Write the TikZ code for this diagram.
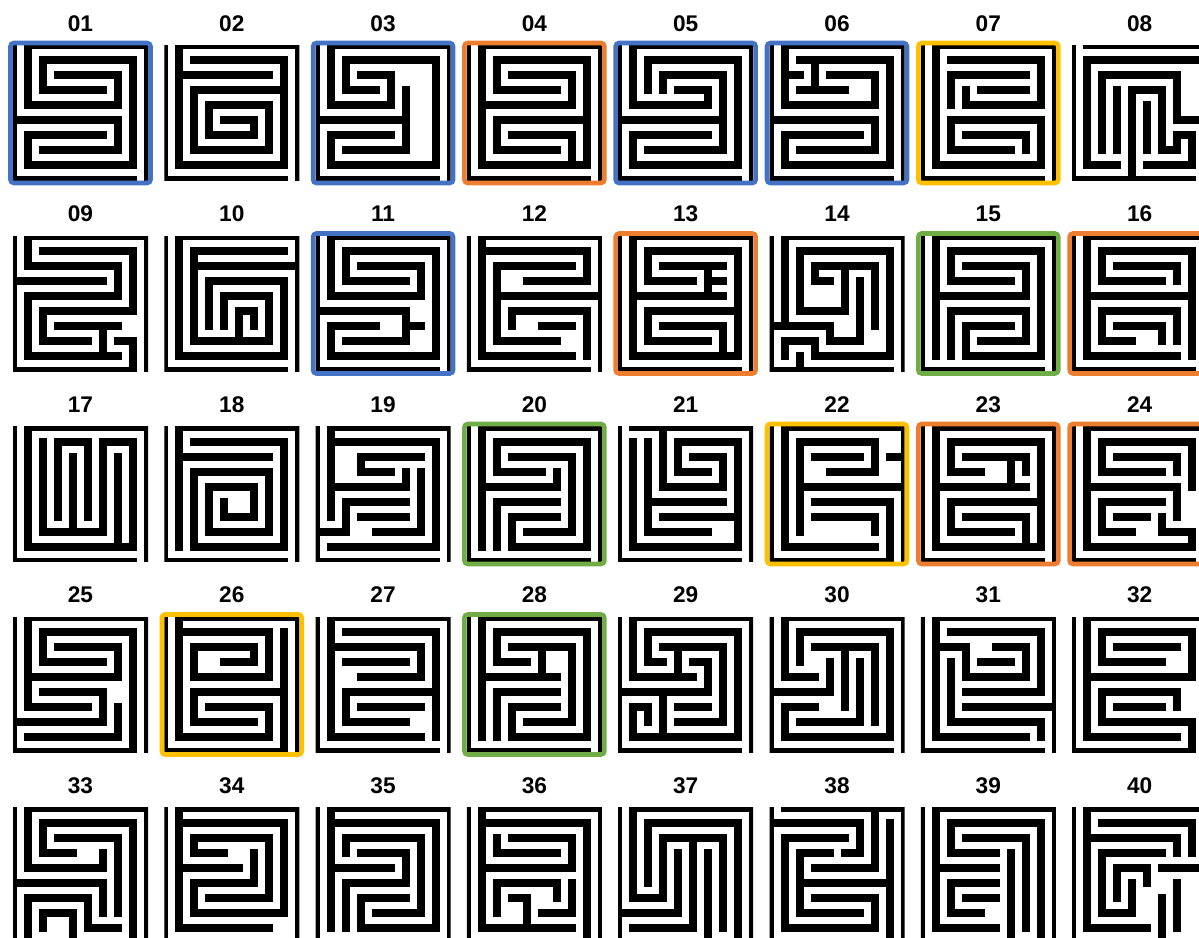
\documentclass[tikz,border=0pt]{standalone}
\usepackage{fontspec}
\setsansfont{Liberation Sans}
\usepackage{tikz}

\definecolor{hlblue}{HTML}{4472C4}
\definecolor{hlorange}{HTML}{ED7D31}
\definecolor{hlyellow}{HTML}{FFC000}
\definecolor{hlgreen}{HTML}{70AD47}

% one maze: column, row, label, walls (lattice 0..9, y down)
\newcommand\maze[4]{%
  \begin{scope}[shift={({13+151.3*#1},{45.5+190.5*#2})}]
    \node[lbl] (lab#3) at (67.5,-22) {#3};
    \begin{scope}
      \clip (0,0) rectangle (135,135);
      \draw[wall, scale=15] (0,0) -- (0,9) (1,0) -- (9,0) -- (9,9) (0,9) -- (8,9) #4;
    \end{scope}
  \end{scope}}
\newcommand\hilite[3]{%
  \draw[hl, draw=#3] ({13+151.3*#1-2.5},{45.5+190.5*#2-2.5}) rectangle ++(140,140);}

\begin{document}
\begin{tikzpicture}[x=0.75pt, y=-0.75pt,
  wall/.style={line width=6pt, line cap=rect, line join=miter},
  lbl/.style={font=\sffamily\bfseries\fontsize{17}{17}\selectfont, inner sep=0pt},
  hl/.style={line width=3.4pt, rounded corners=2.5pt}]
\useasboundingbox (0,0) rectangle (1199,938);
\clip (0,0) rectangle (1199,938);

% row 1
\maze{0}{0}{01}{(1,0)--(1,4)--(7,4)--(7,2)--(3,2) (6,3)--(2,3)--(2,1)--(8,1)--(8,8)--(1,8)--(1,6)--(6,6) (0,5)--(7,5)--(7,7)--(2,7)}
\maze{1}{0}{02}{(1,0)--(1,8)--(8,8)--(8,1)--(2,1) (1,2)--(7,2) (8,3)--(2,3)--(2,7)--(7,7)--(7,4)--(3,4)--(3,6)--(6,6)--(6,5)--(4,5)}
\maze{2}{0}{03}{(1,0)--(1,4)--(5,4)--(5,2)--(3,2) (4,3)--(2,3)--(2,1)--(8,1)--(8,8)--(1,8)--(1,6)--(5,6) (0,5)--(6,5) (6,3)--(6,7)--(2,7)}
\maze{3}{0}{04}{(1,0)--(1,8)--(8,8)--(8,1)--(2,1)--(2,3)--(6,3) (3,2)--(7,2)--(7,4)--(1,4) (8,5)--(2,5)--(2,7)--(6,7) (3,6)--(7,6)--(7,8)}
\maze{4}{0}{05}{(1,0)--(1,4)--(6,4)--(6,3)--(4,3) (2,3)--(2,1)--(8,1)--(8,8)--(1,8)--(1,6)--(6,6) (3,3)--(3,2)--(7,2)--(7,7)--(2,7) (0,5)--(7,5)}
\maze{5}{0}{06}{(1,0)--(1,4)--(7,4)--(7,2)--(4,2) (1,2)--(2,2) (3,1)--(3,3) (2,3)--(5,3) (2,1)--(8,1)--(8,8)--(1,8)--(1,6)--(6,6) (0,5)--(7,5)--(7,7)--(2,7)}
\maze{6}{0}{07}{(1,0)--(1,8)--(8,8)--(8,5)--(2,5)--(2,7)--(6,7) (2,1)--(8,1)--(8,4)--(3,4)--(3,3) (7,2)--(2,2)--(2,4) (4,3)--(7,3) (3,6)--(7,6)--(7,7)}
\maze{7}{0}{08}{(9,1)--(1,1)--(1,8)--(3,8) (2,7)--(2,2)--(7,2)--(7,5)--(9,5) (4,9)--(4,3)--(6,3)--(6,7)--(7,7)--(7,6)--(8,6)--(8,8)--(5,8) (3,3)--(3,7) (5,4)--(5,7)}

% row 2
\maze{0}{1}{09}{(1,0)--(1,2)--(7,2)--(7,4)--(1,4)--(1,8)--(7,8) (2,1)--(8,1)--(8,5)--(2,5)--(2,7)--(5,7) (0,3)--(6,3) (3,6)--(7,6) (6,6)--(6,8) (7,7)--(8,7)--(8,9)}
\maze{1}{1}{10}{(1,0)--(1,8)--(8,8)--(8,3)--(3,3)--(3,6) (8,1)--(2,1)--(2,7)--(7,7)--(7,4)--(4,4)--(4,6) (2,2)--(9,2) (5,7)--(5,5)--(6,5)--(6,6)}
\maze{2}{1}{11}{(1,0)--(1,4)--(7,4)--(7,2)--(3,2) (6,3)--(2,3)--(2,1)--(8,1)--(8,8)--(1,8)--(1,6)--(4,6) (0,5)--(6,5)--(6,7)--(2,7) (6,6)--(7,6)}
\maze{3}{1}{12}{(1,0)--(1,8)--(7,8) (1,1)--(8,1)--(8,3)--(4,3) (7,2)--(2,2)--(2,7)--(6,7) (2,4)--(9,4) (3,6)--(3,5)--(8,5)--(8,8) (5,6)--(7,6)}
\maze{4}{1}{13}{(1,0)--(1,8)--(8,8)--(8,1)--(2,1)--(2,3)--(5,3) (3,2)--(7,2) (6,2)--(6,4) (6,3)--(7,3) (1,4)--(7,4) (8,5)--(2,5)--(2,7)--(6,7) (3,6)--(7,6)--(7,8)}
\maze{5}{1}{14}{(1,0)--(1,6) (0,6)--(4,6)--(4,7)--(6,7)--(6,3) (5,5)--(2,5)--(2,1)--(8,1)--(8,8)--(3,8)--(3,7)--(1,7)--(1,8) (2,8)--(2,9) (4,3)--(3,3)--(3,2)--(7,2)--(7,6) (5,2)--(5,5)}
\maze{6}{1}{15}{(1,0)--(1,8) (6,3)--(2,3)--(2,1)--(8,1)--(8,8)--(3,8)--(3,6)--(6,6) (3,2)--(7,2)--(7,4)--(1,4) (2,8)--(2,5)--(7,5)--(7,7)--(4,7)}
\maze{7}{1}{16}{(1,0)--(1,8)--(7,8) (6,3)--(2,3)--(2,1)--(8,1)--(8,8) (3,2)--(7,2)--(7,3) (1,4)--(8,4) (7,7)--(7,5)--(2,5)--(2,7)--(4,7) (3,6)--(6,6)--(6,7)}

% row 3
\maze{0}{2}{17}{(1,0)--(1,8)--(8,8)--(8,1)--(6,1)--(6,7)--(2,7)--(2,1) (3,6)--(3,1)--(5,1)--(5,6) (4,2)--(4,7) (7,2)--(7,8)}
\maze{1}{2}{18}{(1,0)--(1,8) (2,1)--(8,1)--(8,8)--(2,8)--(2,3)--(7,3)--(7,7)--(3,7)--(3,4)--(6,4)--(6,6)--(4,6)--(4,5) (1,2)--(7,2)}
\maze{2}{2}{19}{(1,0)--(1,6) (1,1)--(8,1)--(8,8)--(1,8) (0,7)--(2,7)--(2,5)--(6,5) (7,2)--(3,2)--(3,3)--(5,3) (1,4)--(6,4)--(6,3) (7,3)--(7,7)--(4,7) (3,6)--(6,6)}
\maze{3}{2}{20}{(1,0)--(1,8) (5,3)--(2,3)--(2,1)--(8,1)--(8,8)--(3,8)--(3,6)--(6,6) (3,2)--(7,2)--(7,7)--(4,7) (1,4)--(6,4)--(6,3) (2,8)--(2,5)--(6,5)}
\maze{4}{2}{21}{(3,0)--(3,4)--(7,4)--(7,2)--(5,2) (6,3)--(4,3)--(4,1)--(8,1)--(8,8)--(1,8)--(1,1) (2,1)--(2,7)--(6,7) (2,5)--(7,5) (3,6)--(8,6)}
\maze{5}{2}{22}{(1,0)--(1,8)--(7,8) (2,7)--(2,1)--(7,1)--(7,3)--(4,3) (3,2)--(6,2) (8,2)--(9,2) (2,4)--(9,4) (8,9)--(8,5)--(3,5) (3,6)--(7,6)--(7,7)}
\maze{6}{2}{23}{(1,0)--(1,8)--(8,8)--(8,1)--(2,1)--(2,3)--(4,3) (3,2)--(7,2)--(7,3) (6,2)--(6,4) (1,4)--(7,4) (8,5)--(2,5)--(2,7)--(6,7) (3,6)--(7,6)--(7,8)}
\maze{7}{2}{24}{(1,0)--(1,8)--(8,8)--(8,7)--(6,7)--(6,6) (6,3)--(2,3)--(2,1)--(8,1)--(8,4) (3,2)--(7,2)--(7,3) (1,4)--(7,4)--(7,6) (6,5)--(2,5)--(2,7)--(4,7) (3,6)--(5,6)}

% row 4
\maze{0}{3}{25}{(1,0)--(1,6)--(5,6) (1,4)--(7,4)--(7,2)--(3,2) (6,3)--(2,3)--(2,1)--(8,1)--(8,9) (2,5)--(6,5)--(6,7)--(0,7) (1,8)--(7,8)--(7,6)}
\maze{1}{3}{26}{(1,0)--(1,8)--(7,8)--(7,6)--(3,6) (1,1)--(7,1)--(7,4)--(2,4)--(2,2)--(6,2)--(6,3)--(4,3) (8,1)--(8,9) (6,7)--(2,7)--(2,5)--(8,5)}
\maze{2}{3}{27}{(1,0)--(1,8)--(7,8) (2,1)--(8,1)--(8,8) (1,2)--(7,2)--(7,4)--(3,4) (2,3)--(6,3) (8,5)--(2,5)--(2,7)--(6,7) (3,6)--(7,6)}
\maze{3}{3}{28}{(1,0)--(1,8) (4,3)--(2,3)--(2,1)--(8,1)--(8,8)--(3,8)--(3,6)--(6,6) (3,2)--(7,2)--(7,7)--(4,7) (1,4)--(6,4) (5,2)--(5,4) (2,8)--(2,5)--(6,5)}
\maze{4}{3}{29}{(1,0)--(1,4)--(5,4) (3,3)--(2,3)--(2,1)--(8,1)--(8,8)--(1,8)--(1,6)--(2,6)--(2,7) (3,2)--(7,2)--(7,7)--(4,7) (4,2)--(4,4) (5,3)--(6,3)--(6,5) (0,5)--(6,5) (3,5)--(3,8) (4,6)--(6,6)}
\maze{5}{3}{30}{(1,0)--(1,4)--(3,4) (2,3)--(2,1)--(8,1)--(8,8)--(1,8)--(1,6)--(3,6) (7,7)--(7,2)--(3,2) (5,2)--(5,6) (0,5)--(4,5)--(4,3) (6,3)--(6,7)--(2,7)}
\maze{6}{3}{31}{(1,0)--(1,8)--(7,8) (2,1)--(8,1)--(8,5)--(3,5) (1,2)--(3,2)--(3,4)--(7,4)--(7,2)--(5,2) (4,3)--(6,3) (2,3)--(2,7)--(8,7)--(8,8) (3,6)--(9,6)}
\maze{7}{3}{32}{(1,0)--(1,8)--(7,8) (2,1)--(8,1)--(8,4)--(1,4) (2,1)--(2,3)--(6,3) (3,2)--(7,2) (2,5)--(7,5)--(7,6) (2,5)--(2,7)--(8,7)--(8,9) (3,6)--(6,6)}

% row 5
\maze{0}{4}{33}{(1,0)--(1,4)--(6,4)--(6,3) (4,3)--(2,3)--(2,1)--(8,1)--(8,9) (3,2)--(7,2)--(7,7) (0,5)--(6,5)--(6,7) (1,9)--(1,6)--(5,6)--(5,8)--(7,8) (2,8)--(2,7)--(4,7)--(4,9)}
\maze{1}{4}{34}{(1,0)--(1,8)--(7,8) (1,1)--(8,1)--(8,7)--(2,7)--(2,5)--(6,5)--(6,3) (4,3)--(2,3)--(2,2)--(7,2)--(7,6)--(3,6) (1,4)--(5,4)}
\maze{2}{4}{35}{(1,0)--(1,8) (1,1)--(8,1)--(8,8)--(3,8)--(3,6)--(6,6) (2,3)--(2,2)--(7,2)--(7,7)--(4,7) (3,3)--(6,3)--(6,5)--(2,5)--(2,8) (1,4)--(5,4)}
\maze{3}{4}{36}{(1,0)--(1,8)--(7,8) (1,1)--(8,1)--(8,9) (3,2)--(7,2)--(7,4)--(1,4) (2,2)--(2,3)--(6,3) (2,7)--(2,5)--(6,5)--(6,6) (3,6)--(4,6)--(4,8) (5,7)--(7,7)--(7,5)}
\maze{4}{4}{37}{(1,0)--(1,6)--(3,6)--(3,2)--(7,2)--(7,8) (2,5)--(2,1)--(8,1)--(8,9) (0,7)--(4,7)--(4,3) (1,8)--(5,8)--(5,2) (6,3)--(6,9)}
\maze{5}{4}{38}{(0,1)--(6,1)--(6,3)--(5,3) (7,0)--(7,4)--(3,4) (7,8)--(1,8)--(1,2)--(5,2) (4,3)--(2,3)--(2,7)--(6,7) (8,1)--(8,9) (2,5)--(8,5) (3,6)--(7,6)--(7,8)}
\maze{6}{4}{39}{(1,0)--(1,8)--(5,8) (5,3)--(2,3)--(2,1)--(8,1)--(8,9) (3,2)--(7,2)--(7,8) (1,4)--(5,4) (6,3)--(6,9) (4,7)--(2,7)--(2,5)--(5,5) (3,6)--(5,6)}
\maze{7}{4}{40}{(1,0)--(1,8)--(5,8) (2,1)--(8,1)--(8,3) (1,2)--(7,2)--(7,3) (6,3)--(2,3)--(2,7)--(4,7)--(4,5) (3,6)--(3,4)--(5,4)--(5,5) (6,4)--(9,4) (6,6)--(6,9) (7,5)--(7,8)}

% highlighted mazes
\hilite{0}{0}{hlblue} \hilite{2}{0}{hlblue} \hilite{3}{0}{hlorange}
\hilite{4}{0}{hlblue} \hilite{5}{0}{hlblue} \hilite{6}{0}{hlyellow}
\hilite{2}{1}{hlblue} \hilite{4}{1}{hlorange} \hilite{6}{1}{hlgreen}
\hilite{7}{1}{hlorange}
\hilite{3}{2}{hlgreen} \hilite{5}{2}{hlyellow} \hilite{6}{2}{hlorange}
\hilite{7}{2}{hlorange}
\hilite{1}{3}{hlyellow} \hilite{3}{3}{hlgreen}
\end{tikzpicture}
\end{document}
